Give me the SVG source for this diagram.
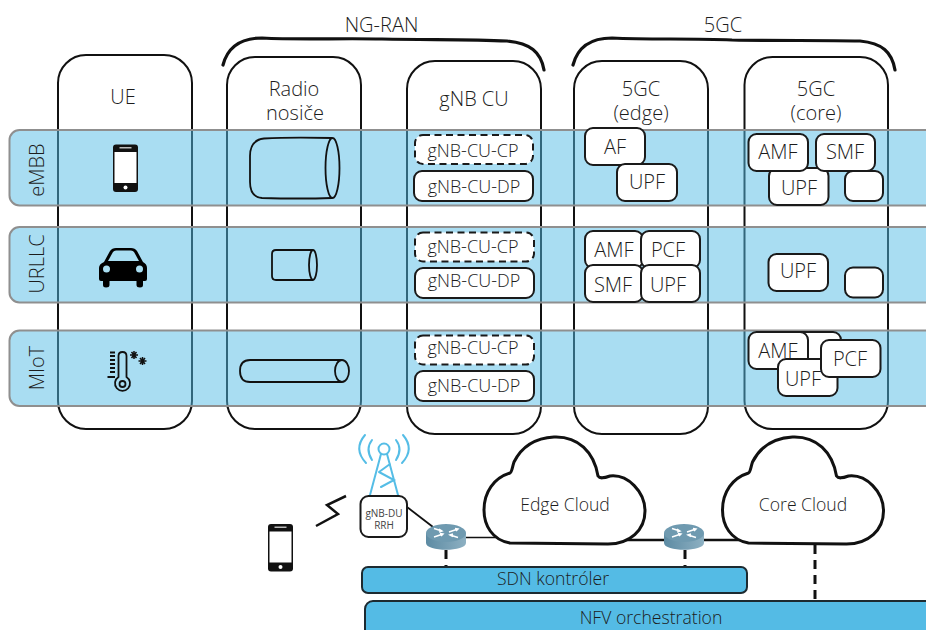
<svg xmlns="http://www.w3.org/2000/svg" xmlns:xlink="http://www.w3.org/1999/xlink" width="926" height="630" viewBox="0 0 926 630">
<style>
text{font-family:"Open Sans","Noto Sans","Liberation Sans",sans-serif;font-weight:300;fill:#1c1c1c;text-anchor:middle}
.t{font-size:20px}
.s{font-size:20px}
.c{font-size:18px}
.m{font-size:17.600px}
.col{fill:#fff;stroke:#111;stroke-width:2}
.band{fill:#54bce6;fill-opacity:.5;stroke:#8f8f8f;stroke-width:2}
.box{fill:#fff;stroke:#1a1a1a;stroke-width:2}
.dash{fill:#fff;stroke:#1a1a1a;stroke-width:2;stroke-dasharray:7 4.5}
.cyl{fill:none;stroke:#111;stroke-width:1.8}
.brace{fill:none;stroke:#111;stroke-width:3.2;stroke-linecap:round}
.bar{fill:#54bbe5;stroke:#1d2a30;stroke-width:2}
.tw{fill:none;stroke:#55bde6;stroke-width:2;stroke-linecap:round}
.dl{fill:none;stroke:#111;stroke-width:3;stroke-dasharray:9 6}
</style>
<defs>
<path id="cloud" d="M40,113 C22,110 14,95 14,80 C14,62 24,48 40,43 C42,42 42,38 44,32 C52,16 66,8 84,7 C108,6 124,22 128,46 C130,49 134,48 140,46 C158,44 175,62 175,81 C175,100 160,114 138,114 Z" fill="#fff" stroke="#111" stroke-width="3"/>
<linearGradient id="rs" x1="0" x2="1" y1="0" y2="0"><stop offset="0" stop-color="#5d8ba3"/><stop offset="1" stop-color="#8db0c2"/></linearGradient>
<g id="router">
<path d="M0,9 V19 C0,28 40,28 40,19 V9 Z" fill="url(#rs)"/>
<ellipse cx="20" cy="9" rx="20" ry="9" fill="#6f9ab0"/>
<path d="M8,4.500 L16,7 M13,5 L16,7 L13,8 M24,11 L32,13.500 M27,10 L24,11 L27,12.500 M8,13 L17,10 M14,9.500 L17,10 L15,12 M23,8 L32,5 M29,4.500 L32,5 L30,7" stroke="#fff" stroke-width="1.500" fill="none"/>
</g>
<g id="phone">
<rect x="0" y="0" width="25" height="47.500" rx="3" fill="#111"/>
<rect x="1.500" y="7.500" width="22" height="31" fill="#fff"/>
<rect x="6.500" y="2.500" width="12" height="1.500" fill="#bbb"/>
<circle cx="12.500" cy="43" r="2" fill="#fff"/>
</g>
</defs>

<g id="columns">
<rect id="col-ue" class="col" x="58" y="55" width="134" height="374" rx="28"/>
<rect id="col-radio" class="col" x="227" y="57" width="134" height="372" rx="28"/>
<rect id="col-gnb" class="col" x="407" y="61" width="134" height="373" rx="28"/>
<rect id="col-edge" class="col" x="574" y="61" width="134" height="373" rx="28"/>
<rect id="col-core" class="col" x="744.500" y="57" width="143.500" height="372" rx="28"/>
</g>
<g id="bands">
<rect id="band-embb" class="band" x="9.500" y="130" width="930" height="75.500" rx="10"/>
<rect id="band-urllc" class="band" x="9.500" y="227" width="930" height="75.500" rx="10"/>
<rect id="band-miot" class="band" x="9.500" y="330.500" width="930" height="75.500" rx="10"/>
<text class="s" transform="translate(44,170) rotate(-90)">eMBB</text>
<text class="s" transform="translate(44,264) rotate(-90)">URLLC</text>
<text class="s" transform="translate(44,368) rotate(-90)">MIoT</text>
</g>
<g id="titles">
<text class="t" x="381.500" y="32">NG-RAN</text>
<text class="t" x="723" y="32">5GC</text>
<text class="t" x="123" y="104">UE</text>
<text class="t" x="294" y="96">Radio</text>
<text class="t" x="295" y="120">nosiče</text>
<text class="t" x="474" y="106">gNB CU</text>
<text class="t" x="641" y="96">5GC</text>
<text class="t" x="641" y="120">(edge)</text>
<text class="t" x="816" y="96">5GC</text>
<text class="t" x="816" y="120">(core)</text>
<path class="brace" d="M223,65 C228,46 242,38 262,38 C300,40 340,38 382,39 C430,40 470,39 507,41 C530,43 541,52 544,70"/>
<path class="brace" d="M573,65 C578,46 592,38 612,38 C650,40 690,38 732,40 C780,41 820,40 860,41 C882,43 892,52 895,70"/>
</g>

<g id="ue-phone"><use xlink:href="#phone" x="113" y="144.500"/></g>
<g id="ue-car">
<path d="M104,262 L110,251 Q112,248 116,248 H131 Q135,248 137,251 L143,262 Q147,264 147,268 V279 Q147,281 145,281 H143 V285 Q143,287.500 140,287.500 Q136.500,287.500 136.500,285 V281 H109.500 V285 Q109.500,287.500 106,287.500 Q103,287.500 103,285 V281 H101 Q99,281 99,279 V268 Q99,264 104,262 Z" fill="#000"/>
<path d="M108,261 L113,252 Q114,250.500 116,250.500 H131 Q133,250.500 134,252 L139,261 Z" fill="#a9def2"/>
<circle cx="106.500" cy="269" r="3.500" fill="#a9def2"/>
<circle cx="139.500" cy="269" r="3.500" fill="#a9def2"/>
</g>
<g id="ue-thermo">
<path d="M118.500,377 V356 Q118.500,352 122.500,352 Q126.500,352 126.500,356 V377 A7.500,7.500 0 1 1 118.500,377 Z" fill="none" stroke="#111" stroke-width="1.800"/>
<circle cx="122.500" cy="384" r="3" fill="none" stroke="#111" stroke-width="1.800"/>
<path d="M107.500,377 H115 M110,372 H115 M110,368 H115 M110,364 H115 M110,360 H115 M110,356 H115 M110,352.500 H115" stroke="#111" stroke-width="1.800"/>
<path d="M134,351 V359 M130,355 H138 M131.500,352 L136.500,358 M136.500,352 L131.500,358 M142.500,357 V365 M138.500,361 H146.500 M140,358 L145,364 M145,358 L140,364" stroke="#111" stroke-width="1.500"/>
</g>

<g id="bearer-embb"><path class="cyl" d="M332,138 Q290,137 264,138.500 Q250,140 250,156 V182 Q250,197 262,198 Q300,199 332,198"/><ellipse class="cyl" cx="332.500" cy="168" rx="7" ry="30"/></g>
<g id="bearer-urllc"><path class="cyl" d="M313,250 H276 Q272,250 272,254 V276 Q272,280 276,280 H313"/><ellipse class="cyl" cx="313" cy="265" rx="4" ry="15"/></g>
<g id="bearer-miot"><path class="cyl" d="M342,360 H250 Q240,360 240,371 Q240,382 250,382 H342"/><ellipse class="cyl" cx="342" cy="371" rx="7" ry="11"/></g>

<g id="gnb-cp-1"><rect class="dash" x="415" y="135" width="118" height="29" rx="8"/><text class="c" x="473" y="157">gNB-CU-CP</text></g>
<g id="gnb-dp-1"><rect class="box" x="414" y="171" width="119" height="30" rx="8"/><text class="c" x="474" y="193">gNB-CU-DP</text></g>
<g id="gnb-cp-2"><rect class="dash" x="415" y="232.500" width="119" height="29" rx="8"/><text class="c" x="473" y="253">gNB-CU-CP</text></g>
<g id="gnb-dp-2"><rect class="box" x="415" y="268" width="119" height="30" rx="8"/><text class="c" x="474" y="287">gNB-CU-DP</text></g>
<g id="gnb-cp-3"><rect class="dash" x="415" y="335.500" width="119" height="29" rx="8"/><text class="c" x="473" y="354">gNB-CU-CP</text></g>
<g id="gnb-dp-3"><rect class="box" x="415" y="371" width="119" height="30" rx="8"/><text class="c" x="474" y="392">gNB-CU-DP</text></g>

<g id="edge-af"><rect class="box" x="585" y="128" width="60" height="37" rx="8"/><text class="t" x="615" y="154">AF</text></g>
<g id="edge-upf-1"><rect class="box" x="617" y="164" width="60" height="37" rx="8"/><text class="s" x="647" y="189">UPF</text></g>
<g id="edge-amf"><rect class="box" x="585" y="231" width="58" height="37" rx="8"/><text class="s" x="614" y="257">AMF</text></g>
<g id="edge-pcf"><rect class="box" x="641" y="231" width="59" height="37" rx="8"/><text class="s" x="668" y="257">PCF</text></g>
<g id="edge-smf"><rect class="box" x="585" y="265" width="58" height="37" rx="8"/><text class="s" x="613" y="292">SMF</text></g>
<g id="edge-upf-2"><rect class="box" x="641" y="265" width="59" height="37" rx="8"/><text class="s" x="668" y="292">UPF</text></g>

<g id="core-upf-1"><rect class="box" x="769" y="168" width="59.500" height="37" rx="8"/><text class="s" x="799" y="195">UPF</text></g>
<g id="core-amf-1"><rect class="box" x="748.500" y="134" width="59.500" height="37" rx="8"/><text class="s" x="778" y="159">AMF</text></g>
<g id="core-smf"><rect class="box" x="816" y="134" width="59" height="37" rx="8"/><text class="s" x="845" y="159">SMF</text></g>
<g id="core-blank-1"><rect class="box" x="845" y="171" width="38" height="30" rx="8"/></g>
<g id="core-upf-2"><rect class="box" x="768.500" y="254" width="59.500" height="37" rx="8"/><text class="s" x="798" y="278">UPF</text></g>
<g id="core-blank-2"><rect class="box" x="845" y="267.500" width="38" height="30" rx="8"/></g>
<g id="core-blank-3"><rect class="box" x="781" y="332" width="60" height="37" rx="8"/></g>
<g id="core-amf-2"><rect class="box" x="748.500" y="332" width="59.500" height="37" rx="8"/><text class="s" x="778" y="358">AMF</text></g>
<g id="core-upf-3"><rect class="box" x="778" y="359" width="59.500" height="37" rx="8"/><text class="s" x="803" y="386">UPF</text></g>
<g id="core-pcf"><rect class="box" x="821" y="340" width="59.500" height="37" rx="8"/><text class="s" x="850" y="366">PCF</text></g>

<g id="connectors">
<path d="M407,507 L433,527" stroke="#111" stroke-width="1.800" fill="none"/>
<path d="M466,537.500 H510" stroke="#111" stroke-width="1.500" fill="none"/>
<path d="M620,540 H750" stroke="#111" stroke-width="2.500" fill="none"/>
<path class="dl" d="M446,550 V567"/>
<path class="dl" d="M685,550 V567"/>
<path class="dl" d="M815,545 V601"/>
<path d="M316,526 L338,514 L327,505 L346,496" fill="none" stroke="#111" stroke-width="2.500"/>
</g>

<g id="edge-cloud"><use xlink:href="#cloud" x="470" y="430"/><text class="m" x="565" y="511">Edge Cloud</text></g>
<g id="core-cloud"><use xlink:href="#cloud" x="708.500" y="430"/><text class="m" x="803" y="511">Core Cloud</text></g>
<g id="router-1"><use xlink:href="#router" x="426" y="524"/></g>
<g id="router-2"><use xlink:href="#router" x="664" y="524"/></g>

<g id="tower">
<circle class="tw" cx="384" cy="449" r="5.500"/>
<path class="tw" d="M370,495 L381,454 M398,495 L387,454 M379,472 L394,480 L381,487 M379,472 L390,464"/>
<path class="tw" d="M372,440 Q365,449 372,460 M365,435 Q353,449 366,463 M396,440 Q403,449 396,460 M403,435 Q415,449 402,463"/>
</g>
<g id="gnb-du"><rect class="box" x="360.500" y="496" width="46.500" height="41" rx="8"/><text x="384" y="517" style="font-size:10px;font-weight:400;fill:#444">gNB-DU</text><text x="384" y="529" style="font-size:10px;font-weight:400;fill:#444">RRH</text></g>
<g id="device-phone"><use xlink:href="#phone" x="268" y="524"/></g>

<g id="sdn"><rect class="bar" x="362" y="567" width="385" height="26" rx="6"/><text class="m" x="553" y="585">SDN kontróler</text></g>
<g id="nfv"><rect class="bar" x="365" y="601" width="580" height="40" rx="8"/><text class="m" x="651" y="624">NFV orchestration</text></g>
</svg>
